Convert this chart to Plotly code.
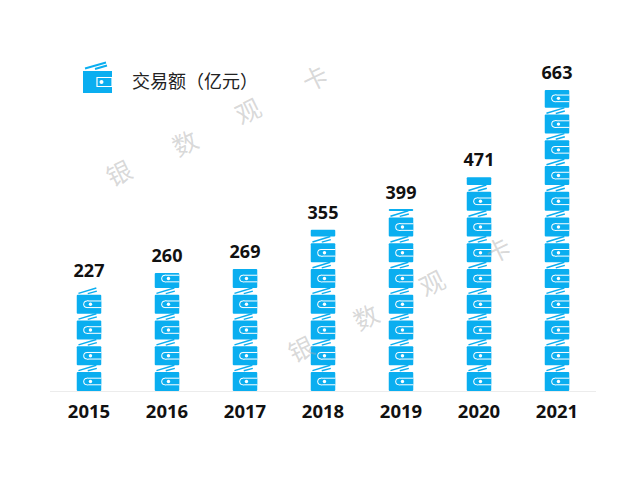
import plotly.graph_objects as go

years = ["2015", "2016", "2017", "2018", "2019", "2020", "2021"]
values = [227, 260, 269, 355, 399, 471, 663]
legend_label = "交易额（亿元）"
watermark_chars = ["银", "数", "观", "卡"]

BLUE = "#0aaef0"
UNIT = 56.7        # value represented by one wallet
BODY = 41.9        # part of a wallet that is the body
HALF = 0.157       # half wallet width, in category units
YMAX = 793

L, T, W, H = 50, 31, 546, 360

body_x, body_base, body_h = [], [], []
fx, fy, fx2, fy2 = [], [], [], []
pill_x, pill_y = [], []
pill_start_x, pill_start_y, dot_x, dot_y = [], [], [], []

for i, v in enumerate(values):
    n = 0
    while n * UNIT < v - 0.5:
        b = n * UNIT
        h = min(BODY, v - b)
        body_x.append(i); body_base.append(b); body_h.append(h)
        left = i - HALF
        w = 2 * HALF
        if h > 31:
            c = b + BODY * 0.5
            pill_x += [left + 0.42 * w, left + w, None]
            pill_y += [c, c, None]
            pill_start_x.append(left + 0.42 * w); pill_start_y.append(c)
            dot_x.append(left + 0.56 * w); dot_y.append(c)
        if v >= b + UNIT - 0.5:
            fx += [left + 0.07 * w, left + 0.80 * w, None]
            fy += [b + BODY + 3, b + UNIT, None]
            fx2 += [left + 0.45 * w, left + 0.82 * w, None]
            fy2 += [b + BODY + 2.5, b + BODY + 8, None]
        n += 1

fig = go.Figure()
fig.add_trace(go.Bar(x=body_x, y=body_h, base=body_base, width=2 * HALF,
                     marker=dict(color=BLUE, cornerradius=1.5, line_width=0),
                     hoverinfo="skip", showlegend=False))
fig.add_trace(go.Scatter(x=fx, y=fy, mode="lines", line=dict(color=BLUE, width=1.5),
                         hoverinfo="skip", showlegend=False))
fig.add_trace(go.Scatter(x=fx2, y=fy2, mode="lines", line=dict(color=BLUE, width=1.5),
                         hoverinfo="skip", showlegend=False))
# clasp: white pill, blue inside, white dot
fig.add_trace(go.Scatter(x=pill_x, y=pill_y, mode="lines", line=dict(color="white", width=7.6),
                         hoverinfo="skip", showlegend=False))
fig.add_trace(go.Scatter(x=pill_start_x, y=pill_start_y, mode="markers",
                         marker=dict(color="white", size=7.6), hoverinfo="skip", showlegend=False))
fig.add_trace(go.Scatter(x=pill_x, y=pill_y, mode="lines", line=dict(color=BLUE, width=5.6),
                         hoverinfo="skip", showlegend=False))
fig.add_trace(go.Scatter(x=pill_start_x, y=pill_start_y, mode="markers",
                         marker=dict(color=BLUE, size=5.6), hoverinfo="skip", showlegend=False))
fig.add_trace(go.Scatter(x=dot_x, y=dot_y, mode="markers",
                         marker=dict(color="white", size=3.4), hoverinfo="skip", showlegend=False))
# value labels (transparent marker lifts the text clear of the stack)
fig.add_trace(go.Scatter(x=list(range(len(values))), y=values, mode="markers+text",
                         marker=dict(size=9, opacity=0),
                         text=[str(v) for v in values], textposition="top center",
                         textfont=dict(family="Noto Sans", size=18, color="#111111", weight="bold"),
                         hoverinfo="skip", showlegend=False))


def px(x):
    return (x - L) / W


def py(y):
    return (T + H - y) / H


shapes = [
    dict(type="rect", xref="paper", yref="paper", x0=px(83), x1=px(112), y0=py(93), y1=py(71),
         fillcolor=BLUE, line_width=0),
    dict(type="line", xref="paper", yref="paper", x0=px(85), x1=px(106), y0=py(68.5), y1=py(62.5),
         line=dict(color=BLUE, width=2)),
    dict(type="line", xref="paper", yref="paper", x0=px(95), x1=px(107), y0=py(69), y1=py(65.5),
         line=dict(color=BLUE, width=2)),
    dict(type="rect", xref="paper", yref="paper", x0=px(97), x1=px(112), y0=py(86.5), y1=py(77.5),
         fillcolor=BLUE, line=dict(color="white", width=1.2)),
    dict(type="circle", xref="paper", yref="paper", x0=px(99.5), x1=px(103.5), y0=py(84), y1=py(80),
         fillcolor="white", line_width=0),
]

annotations = [dict(xref="paper", yref="paper", x=px(130), y=py(80), xanchor="left", yanchor="middle",
                    text=legend_label, showarrow=False,
                    font=dict(family="Noto Sans CJK SC", size=18, color="#222222"))]
wm_positions = [[(118, 172), (184, 142), (247, 110), (314, 77)],
                [(300, 348), (365, 316), (431, 282), (497, 249)]]
for group in wm_positions:
    for ch, (x, y) in zip(watermark_chars, group):
        annotations.append(dict(xref="paper", yref="paper", x=px(x), y=py(y), xanchor="center",
                                yanchor="middle", text=ch, showarrow=False, textangle=-26,
                                font=dict(family="Noto Sans CJK SC", size=25,
                                          color="rgba(170,170,170,0.45)")))

fig.update_layout(
    width=640, height=480, autosize=False, barmode="overlay",
    margin=dict(l=L, r=640 - L - W, t=T, b=480 - T - H),
    paper_bgcolor="white", plot_bgcolor="white",
    xaxis=dict(range=[-0.5, 6.5], tickmode="array", tickvals=list(range(len(years))), ticktext=years,
               showgrid=False, zeroline=False, showline=True, linecolor="#ececec", linewidth=1,
               ticks="", ticklabelstandoff=4,
               tickfont=dict(family="Noto Sans", size=18.5, color="#111111", weight="bold")),
    yaxis=dict(range=[0, YMAX], visible=False),
    shapes=shapes, annotations=annotations,
)
fig.write_html("out.html", config=dict(displayModeBar=False),
               post_script="document.body.style.margin='0';")
